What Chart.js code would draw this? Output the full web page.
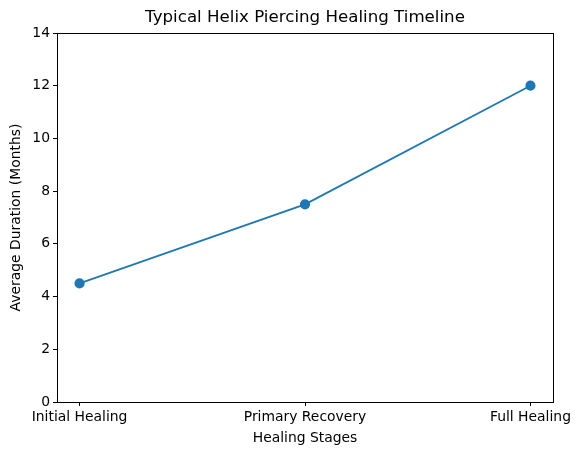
<!DOCTYPE html>
<html>
<head>
<meta charset="utf-8">
<script src="https://cdn.jsdelivr.net/npm/chart.js@4"></script>
<style>
html,body{margin:0;padding:0;background:#fff;}
#wrap{width:580px;height:455px;}
</style>
</head>
<body>
<div id="wrap"><canvas id="c" width="580" height="455"></canvas></div>
<script>
const categories = ["Initial Healing", "Primary Recovery", "Full Healing"];
const durations = [4.5, 7.5, 12];
const yTicks = [0, 2, 4, 6, 8, 10, 12, 14];
const chartTitle = "Typical Helix Piercing Healing Timeline";
const xLabel = "Healing Stages";
const yLabel = "Average Duration (Months)";

const points = durations.map((v, i) => ({x: i, y: v}));
const FONT = "'DejaVu Sans', sans-serif";

const frame = {
  id: 'frame',
  afterDatasetsDraw(chart) {
    const a = chart.chartArea, ctx = chart.ctx;
    ctx.save();
    ctx.strokeStyle = '#000';
    ctx.lineWidth = 1;
    ctx.strokeRect(Math.round(a.left) + 0.5, Math.round(a.top) + 0.5,
                   Math.round(a.right - a.left), Math.round(a.bottom - a.top));
    ctx.fillStyle = '#000';
    ctx.font = "16.67px " + FONT;
    ctx.textAlign = 'center';
    ctx.textBaseline = 'middle';
    ctx.fillText(chartTitle, (a.left + a.right) / 2, a.top - 15);
    ctx.restore();
  }
};

new Chart(document.getElementById('c'), {
  type: 'line',
  data: {
    datasets: [{
      data: points,
      borderColor: '#1f77b4',
      backgroundColor: '#1f77b4',
      borderWidth: 1.8,
      pointRadius: 4.2,
      pointHoverRadius: 4.2,
      tension: 0,
      fill: false
    }]
  },
  options: {
    responsive: false,
    animation: false,
    devicePixelRatio: 1,
    layout: {padding: {left: 0, right: 27, top: 33, bottom: 0}},
    plugins: {
      legend: {display: false},
      tooltip: {enabled: false},
      title: {display: false}
    },
    scales: {
      x: {
        type: 'linear',
        min: -0.1,
        max: 2.1,
        afterBuildTicks: (s) => { s.ticks = categories.map((c, i) => ({value: i})); },
        afterFit: (s) => { s.height = 53; },
        grid: {display: true, drawOnChartArea: false, drawTicks: true, tickLength: 4, color: '#000', tickWidth: 1},
        border: {display: true, color: '#000'},
        ticks: {
          color: '#000',
          font: {family: FONT, size: 13.9},
          padding: 3,
          maxRotation: 0,
          autoSkip: false,
          callback: (v) => categories[v] !== undefined ? categories[v] : ''
        },
        title: {
          display: true,
          text: xLabel,
          color: '#000',
          font: {family: FONT, size: 13.9},
          padding: {top: 2, bottom: 8}
        }
      },
      y: {
        type: 'linear',
        min: 0,
        max: 14,
        afterBuildTicks: (s) => { s.ticks = yTicks.map(v => ({value: v})); },
        afterFit: (s) => { s.width = 57; },
        grid: {display: true, drawOnChartArea: false, drawTicks: true, tickLength: 4, color: '#000', tickWidth: 1},
        border: {display: true, color: '#000'},
        ticks: {
          color: '#000',
          font: {family: FONT, size: 13.9},
          padding: 3,
          autoSkip: false
        },
        title: {
          display: true,
          text: yLabel,
          color: '#000',
          font: {family: FONT, size: 13.9},
          padding: {top: 8, bottom: 4}
        }
      }
    }
  },
  plugins: [frame]
});
</script>
</body>
</html>
